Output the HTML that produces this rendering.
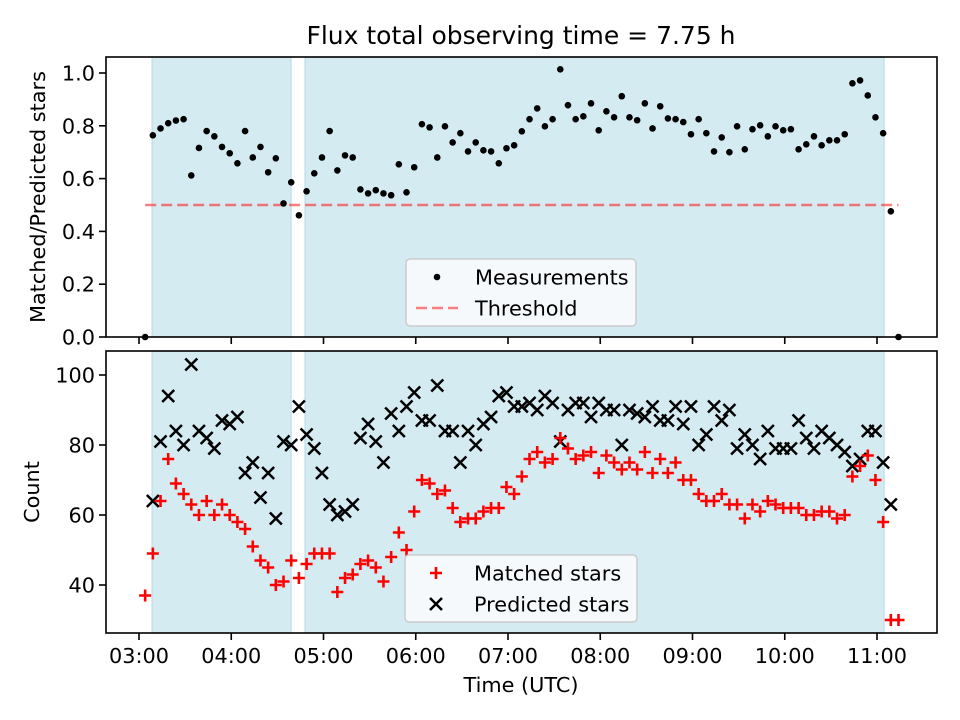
<!DOCTYPE html>
<html><head><meta charset="utf-8">
<style>
html,body{margin:0;padding:0;background:#fff;}
svg{display:block;font-family:"DejaVu Sans","Liberation Sans",sans-serif;}
</style></head>
<body>
<svg id="chart" width="960" height="720" viewBox="0 0 960 720" xmlns="http://www.w3.org/2000/svg">
<rect x="0" y="0" width="960" height="720" fill="#fff"/>
<text x="521" y="44" font-size="25" text-anchor="middle" fill="#000">Flux total observing time = 7.75 h</text>
<g id="topPanel"></g>
<g id="botPanel"></g>
<text x="521" y="692" font-size="20.8" text-anchor="middle">Time (UTC)</text>
<text transform="translate(45,197) rotate(-90)" font-size="20.8" text-anchor="middle">Matched/Predicted stars</text>
<text transform="translate(39,492) rotate(-90)" font-size="20.8" text-anchor="middle">Count</text>
</svg>
<script>
// minutes after 03:00
const times = [4,9,14,19,24,29,34,39,44,49,54,59,64,69,74,79,84,89,94,99,104,109,114,119,124,129,134,139,144,149,154,159,164,169,174,179,184,189,194,199,204,209,214,219,224,229,234,239,244,249,254,259,264,269,274,279,284,289,294,299,304,309,314,319,324,329,334,339,344,349,354,359,364,369,374,379,384,389,394,399,404,409,414,419,424,429,434,439,444,449,454,459,464,469,474,479,484,489,494];
const ratio = [0.0,0.764,0.79,0.81,0.82,0.825,0.612,0.716,0.78,0.76,0.72,0.696,0.658,0.78,0.68,0.72,0.624,0.677,0.506,0.586,0.461,0.552,0.62,0.68,0.78,0.631,0.688,0.68,0.559,0.544,0.556,0.544,0.537,0.654,0.548,0.643,0.806,0.794,0.68,0.798,0.737,0.772,0.703,0.737,0.707,0.703,0.658,0.715,0.726,0.779,
0.825,0.866,0.798,0.825,1.014,0.878,0.825,0.836,0.885,0.783,0.855,0.832,0.912,0.832,0.821,0.885,0.79,0.874,0.828,0.825,0.814,0.768,0.825,0.772,0.703,0.756,0.7,0.798,0.711,0.787,0.802,0.76,0.798,0.783,0.787,0.711,0.73,0.76,0.726,0.745,0.745,0.768,0.961,0.972,0.915,0.832,0.772,0.476,0.0];
const matched = [37,49,64,76,69,66,63,60,64,60,63,60,58,56,51,47,45,40,41,47,42,46,49,49,49,38,42,43,46,47,45,41,48,55,50,61,70,69,66,67,62,58,59,59,61,62,62,68,66,71,
76,78,75,76,82,79,76,77,78,72,77,75,73,75,73,78,72,76,72,75,70,70,66,64,64,66,63,63,59,63,61,64,63,62,62,62,60,60,61,61,59,60,71,74,77,70,58,30,30];
const predicted = [null,64,81,94,84,80,103,84,82,79,87,86,88,72,75,65,72,59,81,80,91,83,79,72,63,60,61,63,82,86,81,75,89,84,91,95,87,87,97,84,84,75,84,80,86,88,94,95,91,91,
92,90,94,92,81,90,92,92,88,92,90,90,80,90,89,88,91,87,87,91,86,91,80,83,91,87,90,79,83,80,76,84,79,79,79,87,82,79,84,82,80,78,74,76,84,84,75,63,null];
const threshold = 0.5;
const spans = [[8.5,98.9],[108,484.6]];
const xTicks = [0,60,120,180,240,300,360,420,480];
const xTickLabels = ["03:00","04:00","05:00","06:00","07:00","08:00","09:00","10:00","11:00"];
const topTicks = [0,0.2,0.4,0.6,0.8,1.0];
const topTickLabels = ["0.0","0.2","0.4","0.6","0.8","1.0"];
const botTicks = [40,60,80,100];
const botTickLabels = ["40","60","80","100"];

const NS="http://www.w3.org/2000/svg";
const L=106,R=937;
const T1=57,B1=337,T2=351,B2=633;
const xs = m => 139 + m*1.5375;
const yTop = v => 337 - v*264;
const yBot = v => 375 + (100-v)*3.5;
function mk(tag, attrs, parent){const e=document.createElementNS(NS,tag);for(const k in attrs)e.setAttribute(k,attrs[k]);parent.appendChild(e);return e;}

function panel(g, T, B, yf, ticks, labels, nameP){
  for(const s of spans){
    const r=mk('rect',{x:xs(s[0]),y:T,width:xs(s[1])-xs(s[0]),height:B-T,fill:'#d5ebf2',stroke:'#bcdde8','stroke-width':1.2},g);
    
    
  }
  ticks.forEach((v,i)=>{
    const y=yf(v);
    mk('line',{x1:L-7,x2:L,y1:y,y2:y,stroke:'#000','stroke-width':1.6},g);
    const t=mk('text',{x:L-11,y:y+7.5,'font-size':20.8,'text-anchor':'end'},g);
    t.textContent=labels[i];
    
    
  });
  xTicks.forEach(m=>{mk('line',{x1:xs(m),x2:xs(m),y1:B,y2:B+7,stroke:'#000','stroke-width':1.6},g);});
}
const gTop=document.getElementById('topPanel'), gBot=document.getElementById('botPanel');
panel(gTop,T1,B1,yTop,topTicks,topTickLabels,'top');
panel(gBot,T2,B2,yBot,botTicks,botTickLabels,'bottom');

// threshold
const th=mk('line',{x1:xs(times[0]),x2:xs(times[times.length-1]),y1:yTop(threshold),y2:yTop(threshold),stroke:'#ff0000','stroke-opacity':0.5,'stroke-width':2.5,'stroke-dasharray':'11,5'},gTop);


// ratio points
times.forEach((m,i)=>{
  const c=mk('circle',{cx:xs(m),cy:yTop(ratio[i]),r:3.3,fill:'#000'},gTop);
  
  
});
// predicted x markers
times.forEach((m,i)=>{
  if(predicted[i]==null) return;
  const x=xs(m),y=yBot(predicted[i]),d=6;
  const p=mk('path',{d:`M${x-d},${y-d}L${x+d},${y+d}M${x-d},${y+d}L${x+d},${y-d}`,stroke:'#000','stroke-width':2.5,fill:'none'},gBot);
  
  
});
// matched + markers
times.forEach((m,i)=>{
  const x=xs(m),y=yBot(matched[i]),d=6;
  const p=mk('path',{d:`M${x-d},${y}L${x+d},${y}M${x},${y-d}L${x},${y+d}`,stroke:'#ff0000','stroke-width':2.6,fill:'none'},gBot);
  
  
});
// x tick labels (bottom)
xTicks.forEach((m,i)=>{
  const t=mk('text',{x:xs(m),y:663,'font-size':20.8,'text-anchor':'middle'},gBot);
  t.textContent=xTickLabels[i];
  
  
});
// frames
[[T1,B1,gTop],[T2,B2,gBot]].forEach(a=>{
  const f=mk('rect',{x:L,y:a[0],width:R-L,height:a[1]-a[0],fill:'none',stroke:'#000','stroke-width':1.6},a[2]);
  
  
});
// legends
function legend(g,x,y,w,h,items,name){
  const lg=mk('g',{},g);
  
  
  mk('rect',{x:x,y:y,width:w,height:h,rx:4,fill:'#f7fafc','fill-opacity':0.95,stroke:'#cccccc','stroke-width':1.5},lg);
  items.forEach((it,i)=>{
    const cy=y+18+i*31;
    const mx=x+31;
    if(it.k==='dot') mk('circle',{cx:mx,cy:cy,r:3.3,fill:'#000'},lg);
    if(it.k==='dash') mk('line',{x1:x+10,x2:x+52,y1:cy,y2:cy,stroke:'#ff0000','stroke-opacity':0.5,'stroke-width':2.5,'stroke-dasharray':'11,5'},lg);
    if(it.k==='plus') mk('path',{d:`M${mx-6},${cy}L${mx+6},${cy}M${mx},${cy-6}L${mx},${cy+6}`,stroke:'#f00','stroke-width':2.6},lg);
    if(it.k==='x') mk('path',{d:`M${mx-6},${cy-6}L${mx+6},${cy+6}M${mx-6},${cy+6}L${mx+6},${cy-6}`,stroke:'#000','stroke-width':2.5},lg);
    const t=mk('text',{x:x+69,y:cy+7.5,'font-size':20.8},lg);
    t.textContent=it.t;
    
    
  });
}
legend(gTop,406,259,230,67,[{k:'dot',t:'Measurements'},{k:'dash',t:'Threshold'}],'top-legend');
legend(gBot,405,555,232,67,[{k:'plus',t:'Matched stars'},{k:'x',t:'Predicted stars'}],'bottom-legend');
</script>
</body></html>
